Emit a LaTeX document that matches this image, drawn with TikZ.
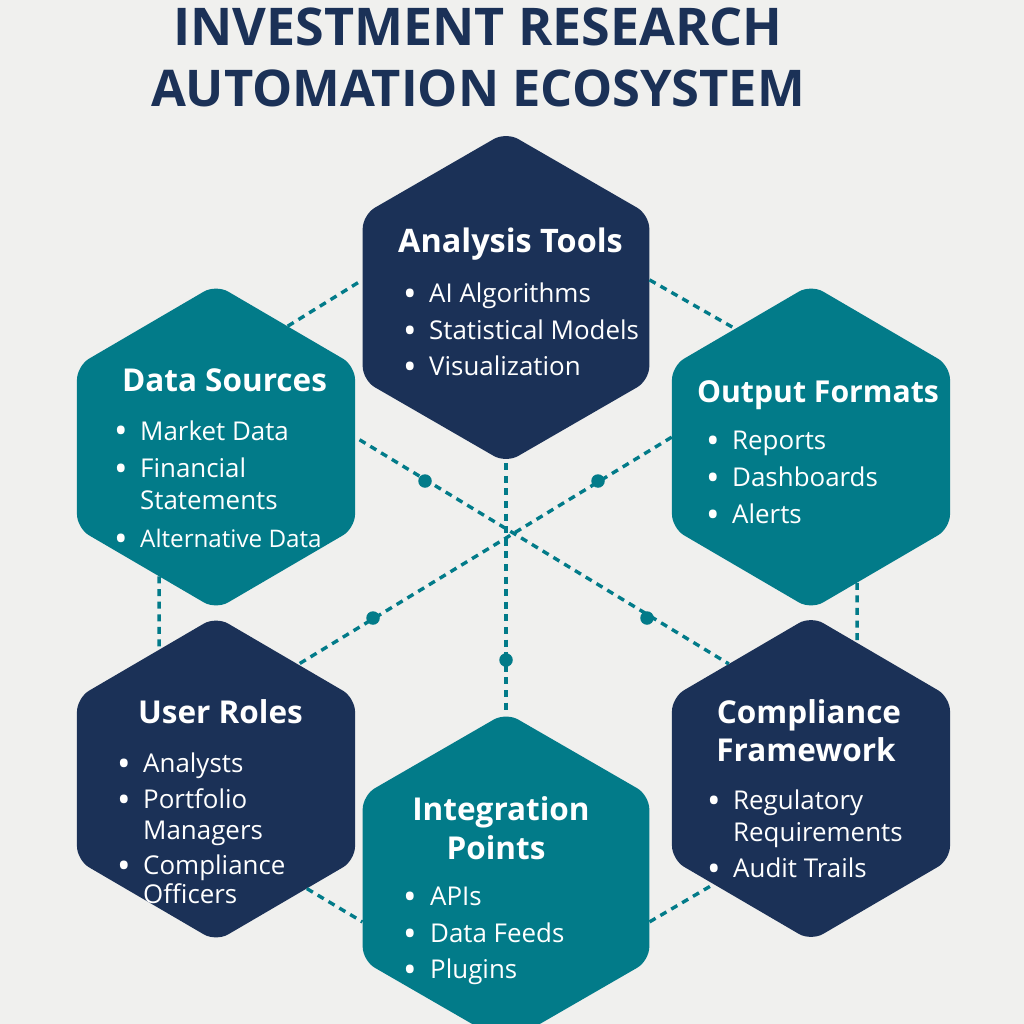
\documentclass[tikz,border=0pt]{standalone}
\usepackage{fontspec}
\setmainfont{Open Sans}
\usetikzlibrary{shapes.geometric}
\definecolor{navy}{HTML}{1B3157}
\definecolor{teal2}{HTML}{027B89}
\definecolor{paper}{HTML}{F0F0EE}
\tikzset{
  hexa/.style={regular polygon,regular polygon sides=6,shape border rotate=30,inner sep=0pt,rounded corners=14pt,minimum size=325pt,xscale=.988,transform shape},
  hexb/.style={regular polygon,regular polygon sides=6,shape border rotate=30,inner sep=0pt,rounded corners=14pt,minimum size=331pt},
  navyfill/.style={fill=navy},
  tealfill/.style={fill=teal2},
  link/.style={draw=teal2,line width=3.4pt,dash pattern=on 7pt off 5.6pt},
  dot/.style={circle,fill=teal2,inner sep=0pt,minimum size=13.5pt},
  headline/.style={anchor=base,inner sep=0pt,text=navy,font=\fontsize{52}{60}\selectfont\bfseries},
  hextitle/.style={anchor=base,inner sep=0pt,text=white,font=\fontsize{31.5}{38}\selectfont\bfseries},
  item/.style={anchor=base west,inner sep=0pt,text=white,font=\fontsize{25.9}{30}\selectfont},
  bul/.style={anchor=base,inner sep=0pt,text=white,yshift=-3.5pt,font=\fontsize{36}{40}\selectfont},
}
\begin{document}
\begin{tikzpicture}[x=1pt,y=-1pt]
\clip (0,0) rectangle (1024,1024);
\fill[paper] (0,0) rectangle (1024,1024);
\node[headline] (t1) at (478,46) {INVESTMENT RESEARCH};
\node[headline,font=\fontsize{50.6}{60}\selectfont\bfseries] (t2) at (478,107) {AUTOMATION ECOSYSTEM};
% hexagons
\node (at) at (506,297.5) [hexb,navyfill] {};
\node (ds) at (216,447) [hexa,tealfill] {};
\node (of) at (811,447) [hexa,tealfill] {};
\node (ur) at (216,779) [hexa,navyfill] {};
\node (cf) at (811,778.5) [hexa,navyfill] {};
\node (ip) at (506,878) [hexb,tealfill] {};
% connectors
\path[link] (at.270) -- (ip.90);
\path[link,shorten <=5pt] (ds.4) -- (cf.126.5);
\path[link] (of.176) -- (ur.54.3);
\path[link] (ds.59.5) -- (at.173);
\path[link] (at.7) -- (of.123.5);
\path[link] (ds.246.6) -- (ur.114.6);
\path[link] (of.289.4) -- (cf.71.3);
\path[link] (ur.-50.8) -- (ip.197);
\path[link] (ip.-17) -- (cf.227);
\node[dot] (d1) at (425,481) {};
\node[dot] (d2) at (598,481) {};
\node[dot] (d3) at (373,618) {};
\node[dot] (d4) at (647,618) {};
\node[dot] (d5) at (506,660) {};
% Analysis Tools
\node[hextitle,font=\fontsize{32.4}{38}\selectfont\bfseries] (at0) at (510.5,252.5) {Analysis Tools};
\node[bul] (at1b) at (410,302.5) {•}; \node[item] (at1) at (429,302.5) {AI Algorithms};
\node[bul] (at2b) at (410,339.5) {•}; \node[item] (at2) at (429,339.5) {Statistical Models};
\node[bul] (at3b) at (410,375.5) {•}; \node[item] (at3) at (429,375.5) {Visualization};
% Data Sources
\node[hextitle] (ds0) at (224.5,391.5) {Data Sources};
\node[bul] (ds1b) at (121,440) {•}; \node[item] (ds1) at (140,440) {Market Data};
\node[bul] (ds2b) at (121,477.5) {•}; \node[item] (ds2) at (140,477.5) {Financial};
\node[item] (ds3) at (140,509.5) {Statements};
\node[bul] (ds4b) at (121,547.5) {•}; \node[item,font=\fontsize{24.2}{30}\selectfont] (ds4) at (140,547.5) {Alternative Data};
% Output Formats
\node[hextitle,font=\fontsize{30.2}{38}\selectfont\bfseries] (of0) at (818,402.5) {Output Formats};
\node[bul] (of1b) at (713,449.5) {•}; \node[item] (of1) at (732,449.5) {Reports};
\node[bul] (of2b) at (713,486.5) {•}; \node[item] (of2) at (732,486.5) {Dashboards};
\node[bul] (of3b) at (713,523.5) {•}; \node[item] (of3) at (732,523.5) {Alerts};
% User Roles
\node[hextitle] (ur0) at (220.5,723.5) {User Roles};
\node[bul] (ur1b) at (124,772.5) {•}; \node[item] (ur1) at (143,772.5) {Analysts};
\node[bul] (ur2b) at (124,808.5) {•}; \node[item] (ur2) at (143,808.5) {Portfolio};
\node[item] (ur3) at (143,839.5) {Managers};
\node[bul] (ur4b) at (124,874.5) {•}; \node[item] (ur4) at (143,874.5) {Compliance};
\node[item] (ur5) at (143,903.5) {Officers};
% Compliance Framework
\node[hextitle] (cf0) at (809,723.5) {Compliance};
\node[hextitle] (cf0b) at (806,761.5) {Framework};
\node[bul] (cf1b) at (714,809.5) {•}; \node[item] (cf1) at (733,809.5) {Regulatory};
\node[item] (cf2) at (733,841.5) {Requirements};
\node[bul] (cf3b) at (714,877.5) {•}; \node[item] (cf3) at (733,877.5) {Audit Trails};
% Integration Points
\node[hextitle] (ip0) at (501,820.5) {Integration};
\node[hextitle] (ip0b) at (496,859.5) {Points};
\node[bul] (ip1b) at (410,905.5) {•}; \node[item] (ip1) at (430,905.5) {APIs};
\node[bul] (ip2b) at (410,942.5) {•}; \node[item] (ip2) at (430,942.5) {Data Feeds};
\node[bul] (ip3b) at (410,978.5) {•}; \node[item] (ip3) at (430,978.5) {Plugins};
\end{tikzpicture}
\end{document}
